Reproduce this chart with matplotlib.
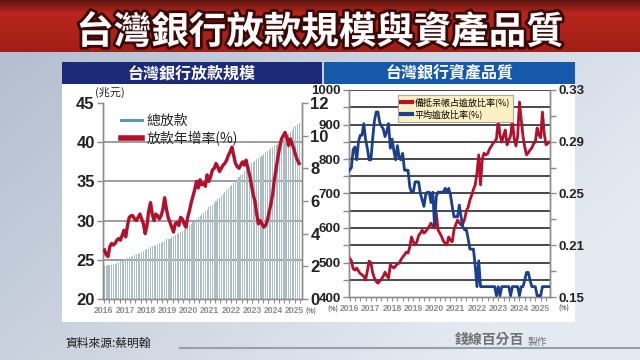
import numpy as np
import matplotlib.pyplot as plt
import matplotlib.patheffects as pe
from matplotlib.lines import Line2D
from matplotlib.patches import Rectangle

plt.rcParams['font.family'] = ['Noto Sans CJK TC', 'DejaVu Sans']
NUM_FONT = ['Liberation Sans', 'DejaVu Sans']

# ---- data (monthly, starting 2016-01) ----
# 總放款 (兆元), 2016-01 .. 2025-03
loan_total = [
    24.2, 24.2, 24.3, 24.3, 24.4, 24.5, 24.5, 24.6, 24.7, 24.8, 24.9, 25.1,
    25.1, 25.2, 25.3, 25.4, 25.5, 25.6, 25.7, 25.8, 25.9, 26.0, 26.1, 26.3,
    26.4, 26.4, 26.6, 26.7, 26.8, 26.9, 27.0, 27.1, 27.2, 27.3, 27.4, 27.6,
    27.7, 27.7, 27.9, 28.0, 28.1, 28.3, 28.4, 28.6, 28.7, 28.9, 29.1, 29.4,
    29.5, 29.6, 29.8, 30.0, 30.2, 30.4, 30.6, 30.8, 31.0, 31.2, 31.4, 31.7,
    31.9, 32.0, 32.2, 32.5, 32.7, 32.9, 33.2, 33.4, 33.6, 33.9, 34.1, 34.4,
    34.6, 34.8, 35.0, 35.3, 35.5, 35.8, 36.0, 36.3, 36.5, 36.8, 37.0, 37.3,
    37.5, 37.6, 37.8, 38.0, 38.1, 38.3, 38.5, 38.7, 38.9, 39.0, 39.2, 39.4,
    39.6, 39.7, 39.9, 40.0, 40.2, 40.4, 40.6, 40.8, 41.1, 41.3, 41.6, 41.9,
    42.1, 42.3, 42.5,
]
# 放款年增率 (%)
loan_growth = [
    3.0, 2.7, 2.6, 3.2, 3.4, 3.3, 3.4, 3.6, 3.7, 3.6, 3.9, 4.2,
    3.8, 4.5, 5.0, 5.1, 5.1, 4.9, 4.8, 5.0, 5.2, 4.9, 4.6, 4.0,
    4.5, 5.4, 5.9, 5.2, 4.8, 5.2, 5.1, 4.9, 5.1, 5.5, 6.2, 5.5,
    5.0, 4.7, 4.4, 4.1, 4.6, 4.7, 4.5, 5.0, 4.9, 4.6, 4.4, 5.0,
    5.4, 5.9, 6.3, 6.7, 7.2, 6.8, 7.3, 7.0, 7.1, 6.9, 7.6, 7.2,
    7.5, 7.9, 8.0, 8.3, 8.1, 7.8, 8.0, 8.2, 8.3, 8.5, 8.8, 9.0,
    9.3, 8.8, 8.3, 8.1, 8.0, 8.2, 8.4, 8.2, 8.5, 8.0, 7.6, 7.0,
    6.4, 6.0, 5.2, 4.6, 4.8, 4.6, 4.4, 4.5, 4.8, 5.3, 5.8, 6.4,
    7.3, 8.0, 8.7, 9.3, 9.8, 10.0, 10.2, 9.9, 9.4, 9.8, 9.5, 9.2,
    8.8, 8.5, 8.3,
]
# 備抵呆帳占逾放比率 (%), 2016-01 .. 2025-06
coverage = [
    513, 505, 482, 478, 484, 475, 468, 464, 460, 449, 475, 504,
    500, 470, 455, 445, 440, 446, 452, 460, 472, 462, 455, 493,
    488, 484, 490, 496, 498, 508, 516, 522, 530, 527, 545, 574,
    560, 551, 560, 578, 585, 594, 585, 590, 597, 605, 614, 605,
    600, 643, 594, 585, 575, 562, 556, 551, 574, 565, 560, 594,
    610, 623, 615, 609, 612, 625, 650, 660, 681, 695, 712, 725,
    760, 812, 725, 800, 817, 812, 815, 828, 836, 845, 850, 858,
    913, 870, 849, 868, 884, 841, 855, 867, 913, 860, 838, 867,
    965, 915, 867, 835, 812, 818, 826, 832, 844, 850, 890, 870,
    862, 936, 875, 841, 845, 849,
]
# 平均逾放比率 (%)
npl = [
    0.268, 0.270, 0.284, 0.286, 0.276, 0.290, 0.295, 0.295, 0.304, 0.292, 0.285, 0.276,
    0.276, 0.292, 0.306, 0.313, 0.313, 0.305, 0.302, 0.300, 0.294, 0.298, 0.304, 0.285,
    0.292, 0.283, 0.276, 0.287, 0.278, 0.276, 0.281, 0.268, 0.268, 0.268, 0.255, 0.251,
    0.251, 0.259, 0.259, 0.259, 0.250, 0.245, 0.240, 0.249, 0.251, 0.251, 0.243, 0.251,
    0.225, 0.248, 0.251, 0.251, 0.251, 0.251, 0.254, 0.251, 0.254, 0.249, 0.240, 0.232,
    0.232, 0.232, 0.241, 0.232, 0.224, 0.222, 0.222, 0.215, 0.207, 0.207, 0.207, 0.194,
    0.178, 0.198, 0.178, 0.178, 0.178, 0.178, 0.178, 0.178, 0.178, 0.178, 0.178, 0.171,
    0.178, 0.171, 0.178, 0.178, 0.178, 0.178, 0.178, 0.171, 0.178, 0.178, 0.178, 0.178,
    0.171, 0.178, 0.178, 0.183, 0.189, 0.189, 0.183, 0.178, 0.178, 0.178, 0.171, 0.171,
    0.171, 0.178, 0.178, 0.178, 0.178, 0.178,
]
years = list(range(2016, 2026))
npl_ticks = [0.17, 0.21, 0.25, 0.29, 0.33]
npl_ticklabels = ['0.15', '0.21', '0.25', '0.29', '0.33']

RED = '#b3102c'
NAVY = '#1c3f8c'
BAR = '#aabdc5'

fig = plt.figure(figsize=(6.4, 3.6), dpi=100)

# ---- background ----
bg = fig.add_axes([0, 0, 1, 1])
bg.set_axis_off()
bg.set_xlim(0, 640)
bg.set_ylim(360, 0)
yy, xx = np.mgrid[0:360, 0:640]
t = np.clip(0.25 + 0.55 * xx / 640 + 0.35 * yy / 360, 0, 1)
c0 = np.array([0.62, 0.67, 0.75])
c1 = np.array([0.90, 0.92, 0.95])
img = c0[None, None, :] * (1 - t[..., None]) + c1[None, None, :] * t[..., None]
bg.imshow(img, extent=[0, 640, 360, 0], aspect='auto', zorder=0)

# title band
tb = np.linspace(0, 1, 52)[:, None]
top_c = np.array([0.36, 0.08, 0.06])
mid_c = np.array([0.72, 0.15, 0.11])
band = np.where(tb < 0.25, top_c + (mid_c - top_c) * (tb / 0.25),
                mid_c - np.array([0.12, 0.04, 0.03]) * (tb - 0.25))
band = np.repeat(band[:, None, :], 640, axis=1).reshape(52, 640, 3)
bg.imshow(band, extent=[0, 640, 52, 0], aspect='auto', zorder=1)
bg.text(320, 32, '台灣銀行放款規模與資產品質', color='white', fontsize=27, fontweight='black',
        ha='center', va='center', zorder=3,
        path_effects=[pe.withStroke(linewidth=4, foreground='#3a0906')])

# panel headers and white area
bg.add_patch(Rectangle((62, 84), 513, 238, facecolor='white', edgecolor='none', zorder=2))
bg.add_patch(Rectangle((62, 62), 260, 22, facecolor='#1d2a78', edgecolor='none', zorder=2))
bg.add_patch(Rectangle((324, 62), 251, 22, facecolor='#1659ab', edgecolor='none', zorder=2))
bg.text(192, 73, '台灣銀行放款規模', color='white', fontsize=11.5, fontweight='bold',
        ha='center', va='center', zorder=3)
bg.text(450, 73, '台灣銀行資產品質', color='white', fontsize=11.5, fontweight='bold',
        ha='center', va='center', zorder=3)

# footer
bg.text(65, 343, '資料來源:蔡明翰', color='#1a1a1a', fontsize=8.5, ha='left', va='center', zorder=3)
bg.plot([180, 640], [348, 348], color='#9aa0a8', lw=1.5, zorder=2)
bg.text(455, 340, '錢線百分百', color='#707070', fontsize=10, fontweight='bold',
        ha='left', va='center', zorder=3)
bg.text(528, 342, '製作', color='#707070', fontsize=7, ha='left', va='center', zorder=3)

# unit labels
bg.text(95, 92, '(兆元)', color='#222222', fontsize=8, ha='left', va='center', zorder=3)
bg.text(311, 312, '(%)', color='#222222', fontsize=5, ha='center', va='center', zorder=3)
bg.text(333, 310, '(%)', color='#222222', fontsize=5, ha='center', va='center', zorder=3)
bg.text(564, 309, '(%)', color='#222222', fontsize=5, ha='center', va='center', zorder=3)


def style_y(a, ticks, labels, size):
    a.set_yticks(ticks)
    a.set_yticklabels(labels, family=NUM_FONT, fontweight='bold', fontsize=size, color='#222222')


def style_x(a, limit):
    a.set_xticks(years)
    a.set_xticklabels([str(y) for y in years], family=NUM_FONT, fontweight='bold',
                      fontsize=6.2, color='#222222')
    a.set_xticks(np.arange(2016, limit, 0.25), minor=True)
    a.tick_params(axis='x', which='both', colors='#8c8c8c', length=3, width=0.8, pad=2)


def style_spines(a):
    a.spines['top'].set_visible(False)
    for s in ('left', 'right', 'bottom'):
        a.spines[s].set_color('#8c8c8c')
        a.spines[s].set_linewidth(1.0)
    a.tick_params(axis='y', which='both', colors='#8c8c8c', length=4, width=1, pad=2)


# ---- left chart: loan size ----
x_l = 2016 + np.arange(len(loan_total)) / 12 + 0.04
ax1 = fig.add_axes([103 / 640, 1 - 299 / 360, 199 / 640, 196 / 360])
ax1.set_facecolor('white')
ax1.bar(x_l, loan_total, width=0.6 / 12, color=BAR, edgecolor='none', zorder=2)
ax1.set_ylim(20, 45)
ax1.set_xlim(2015.97, 2025.34)
for v in [25, 30, 35, 40]:
    ax1.axhline(v, color='#8c8c8c', lw=1.2, zorder=1)
ax1b = ax1.twinx()
ax1b.plot(x_l, loan_growth, color=RED, lw=2.4, zorder=3, solid_joinstyle='round')
ax1b.set_ylim(0, 12)
for a in (ax1, ax1b):
    style_spines(a)
style_y(ax1, [20, 25, 30, 35, 40, 45], ['20', '25', '30', '35', '40', '45'], 12)
style_y(ax1b, list(range(0, 13, 2)), [str(v) for v in range(0, 13, 2)], 12)
style_x(ax1, 2025.3)

handles1 = [Line2D([0], [0], color='#5b9aae', lw=2.2),
            Line2D([0], [0], color=RED, lw=4)]
leg1 = ax1b.legend(handles1, ['總放款', '放款年增率(%)'], loc='upper left',
                   bbox_to_anchor=(0.03, 1.01), frameon=False, fontsize=10,
                   handlelength=1.5, handletextpad=0.3, labelspacing=0.25)
for txt in leg1.get_texts():
    txt.set_color('#222222')

# ---- right chart: asset quality ----
x_r = 2016 + np.arange(len(coverage)) / 12
ax2 = fig.add_axes([349 / 640, 1 - 297 / 360, 201 / 640, 207 / 360])
ax2.set_facecolor('white')
for v in range(450, 1001, 50):
    ax2.axhline(v, color='#2a2a2a', lw=1.2, zorder=1)
ax2.plot(x_r, coverage, color=RED, lw=2.0, zorder=3)
ax2.set_ylim(400, 1000)
ax2.set_xlim(2015.97, 2025.44)
ax2b = ax2.twinx()
ax2b.plot(x_r, npl, color=NAVY, lw=2.0, zorder=3)
ax2b.set_ylim(0.17, 0.33)
for a in (ax2, ax2b):
    style_spines(a)
style_y(ax2, list(range(400, 1001, 100)), [str(v) for v in range(400, 1001, 100)], 9.5)
ax2.set_yticks(range(450, 1000, 100), minor=True)
style_y(ax2b, npl_ticks, npl_ticklabels, 9.5)
ax2b.set_yticks(np.arange(0.19, 0.33, 0.04), minor=True)
style_x(ax2, 2025.45)

handles2 = [Line2D([0], [0], color=RED, lw=3), Line2D([0], [0], color=NAVY, lw=3)]
leg2 = ax2b.legend(handles2, ['備抵呆帳占逾放比率(%)', '平均逾放比率(%)'], loc='upper left',
                   bbox_to_anchor=(0.22, 1.0), frameon=True, fontsize=6.5,
                   handlelength=1.2, handletextpad=0.3, labelspacing=0.2,
                   borderpad=0.35, fancybox=False)
leg2.get_frame().set_facecolor('#fcf0c2')
leg2.get_frame().set_edgecolor('#a8a8a8')
leg2.get_frame().set_linewidth(0.8)
leg2.get_frame().set_alpha(1)

fig.savefig('out.png', dpi=100)
